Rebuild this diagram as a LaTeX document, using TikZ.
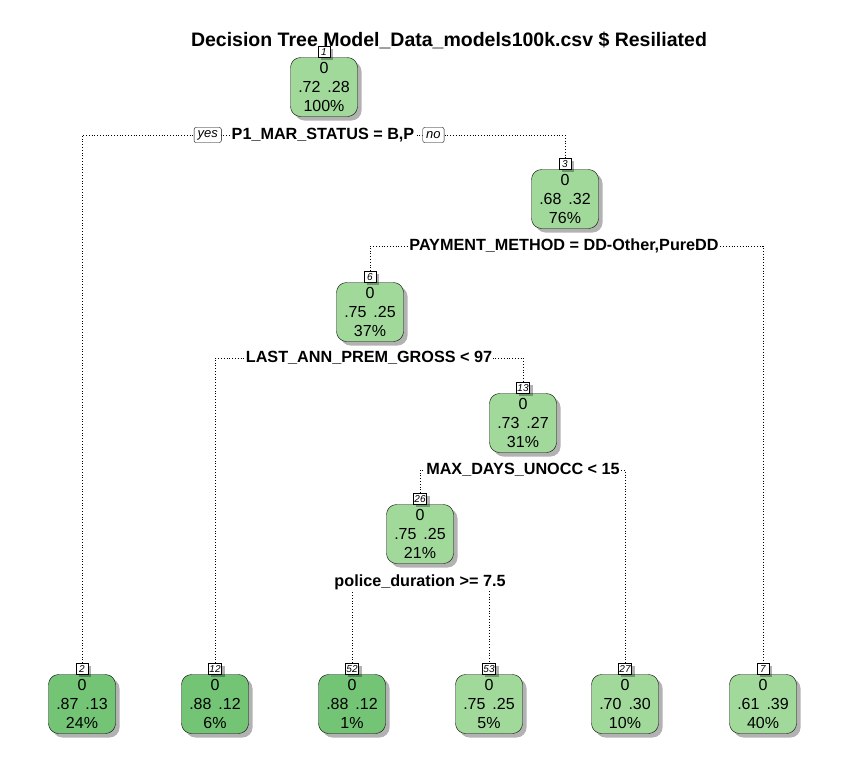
\documentclass[tikz,border=0pt]{standalone}
\usepackage{fontspec}
\setmainfont{Liberation Sans}
\usetikzlibrary{positioning,shadows}
\definecolor{lightgreen}{HTML}{A1D99B}
\definecolor{darkgreen}{HTML}{74C476}
\pgfdeclarelayer{background}
\pgfsetlayers{background,main}
\tikzset{
  treenode/.style={draw, rounded corners=10pt, minimum width=67pt, minimum height=59pt,
    align=center, inner sep=1pt, font=\fontsize{16}{19}\selectfont,
    drop shadow={shadow xshift=4pt, shadow yshift=-4pt, fill=black, opacity=0.3}},
  numtag/.style={draw, fill=white, inner sep=1pt, minimum width=12pt, minimum height=11pt,
    anchor=south, font=\fontsize{10}{10}\selectfont\itshape,
    drop shadow={shadow xshift=3pt, shadow yshift=-3pt, fill=black, opacity=0.3}},
  splitlabel/.style={fill=white, inner sep=1pt, font=\fontsize{16.2}{17}\selectfont\bfseries},
  yesno/.style={draw, rounded corners=2pt, fill=white, inner xsep=3.5pt, inner ysep=1pt,
    minimum height=15pt, font=\fontsize{13}{13}\selectfont\itshape},
  edge/.style={line width=0.8pt, dash pattern=on 0.8pt off 2pt}
}
\newcommand{\probs}[3]{0\\#1\hspace{7pt}#2\\#3\%}
\begin{document}
\begin{tikzpicture}[x=1pt,y=-1pt]
  \useasboundingbox (0,0) rectangle (842,777);
  % Title
  \node[font=\fontsize{19.5}{21}\selectfont\bfseries] (title) at (449,40)
    {Decision Tree Model\_Data\_models100k.csv \$ Resiliated};

  % Inner nodes
  \node[treenode, fill=lightgreen] (n1) at (324,87) {\probs{.72}{.28}{100}};
  \node[treenode, fill=lightgreen] (n3) at (565,199) {\probs{.68}{.32}{76}};
  \node[treenode, fill=lightgreen] (n6) at (370,312) {\probs{.75}{.25}{37}};
  \node[treenode, fill=lightgreen] (n13) at (523,423) {\probs{.73}{.27}{31}};
  \node[treenode, fill=lightgreen] (n26) at (420,534) {\probs{.75}{.25}{21}};

  % Leaves
  \node[treenode, fill=darkgreen] (n2) at (82,704) {\probs{.87}{.13}{24}};
  \node[treenode, fill=darkgreen] (n12) at (215,704) {\probs{.88}{.12}{6}};
  \node[treenode, fill=darkgreen] (n52) at (352,704) {\probs{.88}{.12}{1}};
  \node[treenode, fill=lightgreen] (n53) at (489,704) {\probs{.75}{.25}{5}};
  \node[treenode, fill=lightgreen] (n27) at (625,704) {\probs{.70}{.30}{10}};
  \node[treenode, fill=lightgreen] (n7) at (763,704) {\probs{.61}{.39}{40}};

  % Node numbers
  \foreach \id in {1,3,6,13,26,2,12,52,53,27,7}
    \node[numtag] (t\id) at (n\id.north) {\id};

  % Split labels
  \node[splitlabel] (s1) at (323,135) {P1\_MAR\_STATUS = B,P};
  \node[yesno, left=9pt of s1] (yes) {yes};
  \node[yesno, right=7pt of s1] (no) {no};
  \node[splitlabel] (s3) at (564,246) {PAYMENT\_METHOD = DD-Other,PureDD};
  \node[splitlabel] (s6) at (369,358) {LAST\_ANN\_PREM\_GROSS < 97};
  \node[splitlabel] (s13) at (523,470) {MAX\_DAYS\_UNOCC < 15};
  \node[splitlabel] (s26) at (420,582) {police\_duration >= 7.5};

  % Edges
  \begin{pgfonlayer}{background}
    \draw[edge] (t2.north) |- (s1.center) -| (t3.north);
    \draw[edge] (t6.north) |- (s3.center) -| (t7.north);
    \draw[edge] (t12.north) |- (s6.center) -| (t13.north);
    \draw[edge] (t26.north) |- (s13.center) -| (t27.north);
    \draw[edge] (t52.north) |- (s26.center) -| (t53.north);
  \end{pgfonlayer}
\end{tikzpicture}
\end{document}
